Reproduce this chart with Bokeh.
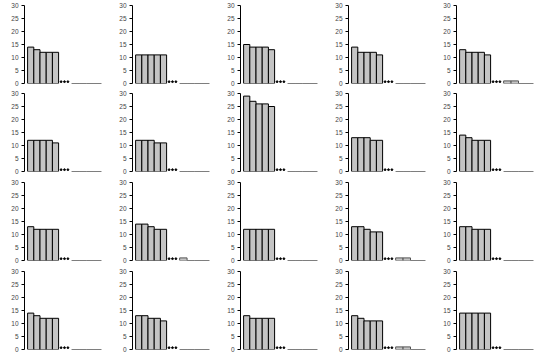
from bokeh.plotting import figure
from bokeh.layouts import gridplot
from bokeh.models import Range1d, FixedTicker
from bokeh.embed import file_html
from bokeh.resources import INLINE

# values of the five leading bars in each of the 20 panels (row by row)
main_values = [
    [14, 13, 12, 12, 12], [11, 11, 11, 11, 11], [15, 14, 14, 14, 13], [14, 12, 12, 12, 11], [13, 12, 12, 12, 11],
    [12, 12, 12, 12, 11], [12, 12, 12, 11, 11], [29, 27, 26, 26, 25], [13, 13, 13, 12, 12], [14, 13, 12, 12, 12],
    [13, 12, 12, 12, 12], [14, 14, 13, 12, 12], [12, 12, 12, 12, 12], [13, 13, 12, 11, 11], [13, 13, 12, 12, 12],
    [14, 13, 12, 12, 12], [13, 13, 12, 12, 11], [13, 12, 12, 12, 12], [13, 12, 11, 11, 11], [14, 14, 14, 14, 14],
]
# values of the four trailing bars (after the ellipsis)
tail_values = [
    [0, 0, 0, 0], [0, 0, 0, 0], [0, 0, 0, 0], [0, 0, 0, 0], [1, 1, 0, 0],
    [0, 0, 0, 0], [0, 0, 0, 0], [0, 0, 0, 0], [0, 0, 0, 0], [0, 0, 0, 0],
    [0, 0, 0, 0], [1, 0, 0, 0], [0, 0, 0, 0], [1, 1, 0, 0], [0, 0, 0, 0],
    [0, 0, 0, 0], [0, 0, 0, 0], [0, 0, 0, 0], [1, 1, 0, 0], [0, 0, 0, 0],
]
y_ticks = [0, 5, 10, 15, 20, 25, 30]

n_cols = 5
row_heights = [88, 89, 89, 88]
col_width = 108

main_x = [1, 2, 3, 4, 5]
tail_w = 1.2
tail_x = [7.6 + tail_w * (i + 0.5) for i in range(4)]
dots_x = [5.9, 6.45, 7.0]

figs = []
for k in range(len(main_values)):
    r = k // n_cols
    h = row_heights[r]
    p = figure(width=col_width, height=h, output_backend="svg", toolbar_location=None,
               x_range=Range1d(0, 12.9), y_range=Range1d(0, 30),
               min_border_left=24, min_border_right=4, min_border_top=5,
               min_border_bottom=h - 5 - 78, x_axis_location=None)
    p.outline_line_color = None
    p.xgrid.visible = False
    p.ygrid.visible = False
    p.background_fill_color = None
    p.border_fill_color = "white"
    ax = p.yaxis[0]
    ax.ticker = FixedTicker(ticks=y_ticks)
    ax.minor_tick_line_color = None
    ax.major_tick_in = 0
    ax.major_tick_out = 3
    ax.major_label_standoff = 3
    ax.major_label_text_font_size = "6.5px"
    ax.major_label_text_font = "Liberation Sans"
    ax.major_label_text_color = "#444444"
    ax.axis_line_color = "black"
    ax.major_tick_line_color = "black"

    p.vbar(x=main_x, top=main_values[k], bottom=0, width=1,
           fill_color="#c4c4c4", line_color="black", line_width=1)
    p.vbar(x=tail_x, top=tail_values[k], bottom=0, width=tail_w,
           fill_color="#c4c4c4", line_color="#555555", line_width=1)
    p.scatter(x=dots_x, y=[0.7] * 3, size=1.8, color="black")
    figs.append(p)

grid = gridplot(figs, ncols=n_cols, toolbar_location=None)
open("out.html", "w").write(file_html(grid, INLINE))
